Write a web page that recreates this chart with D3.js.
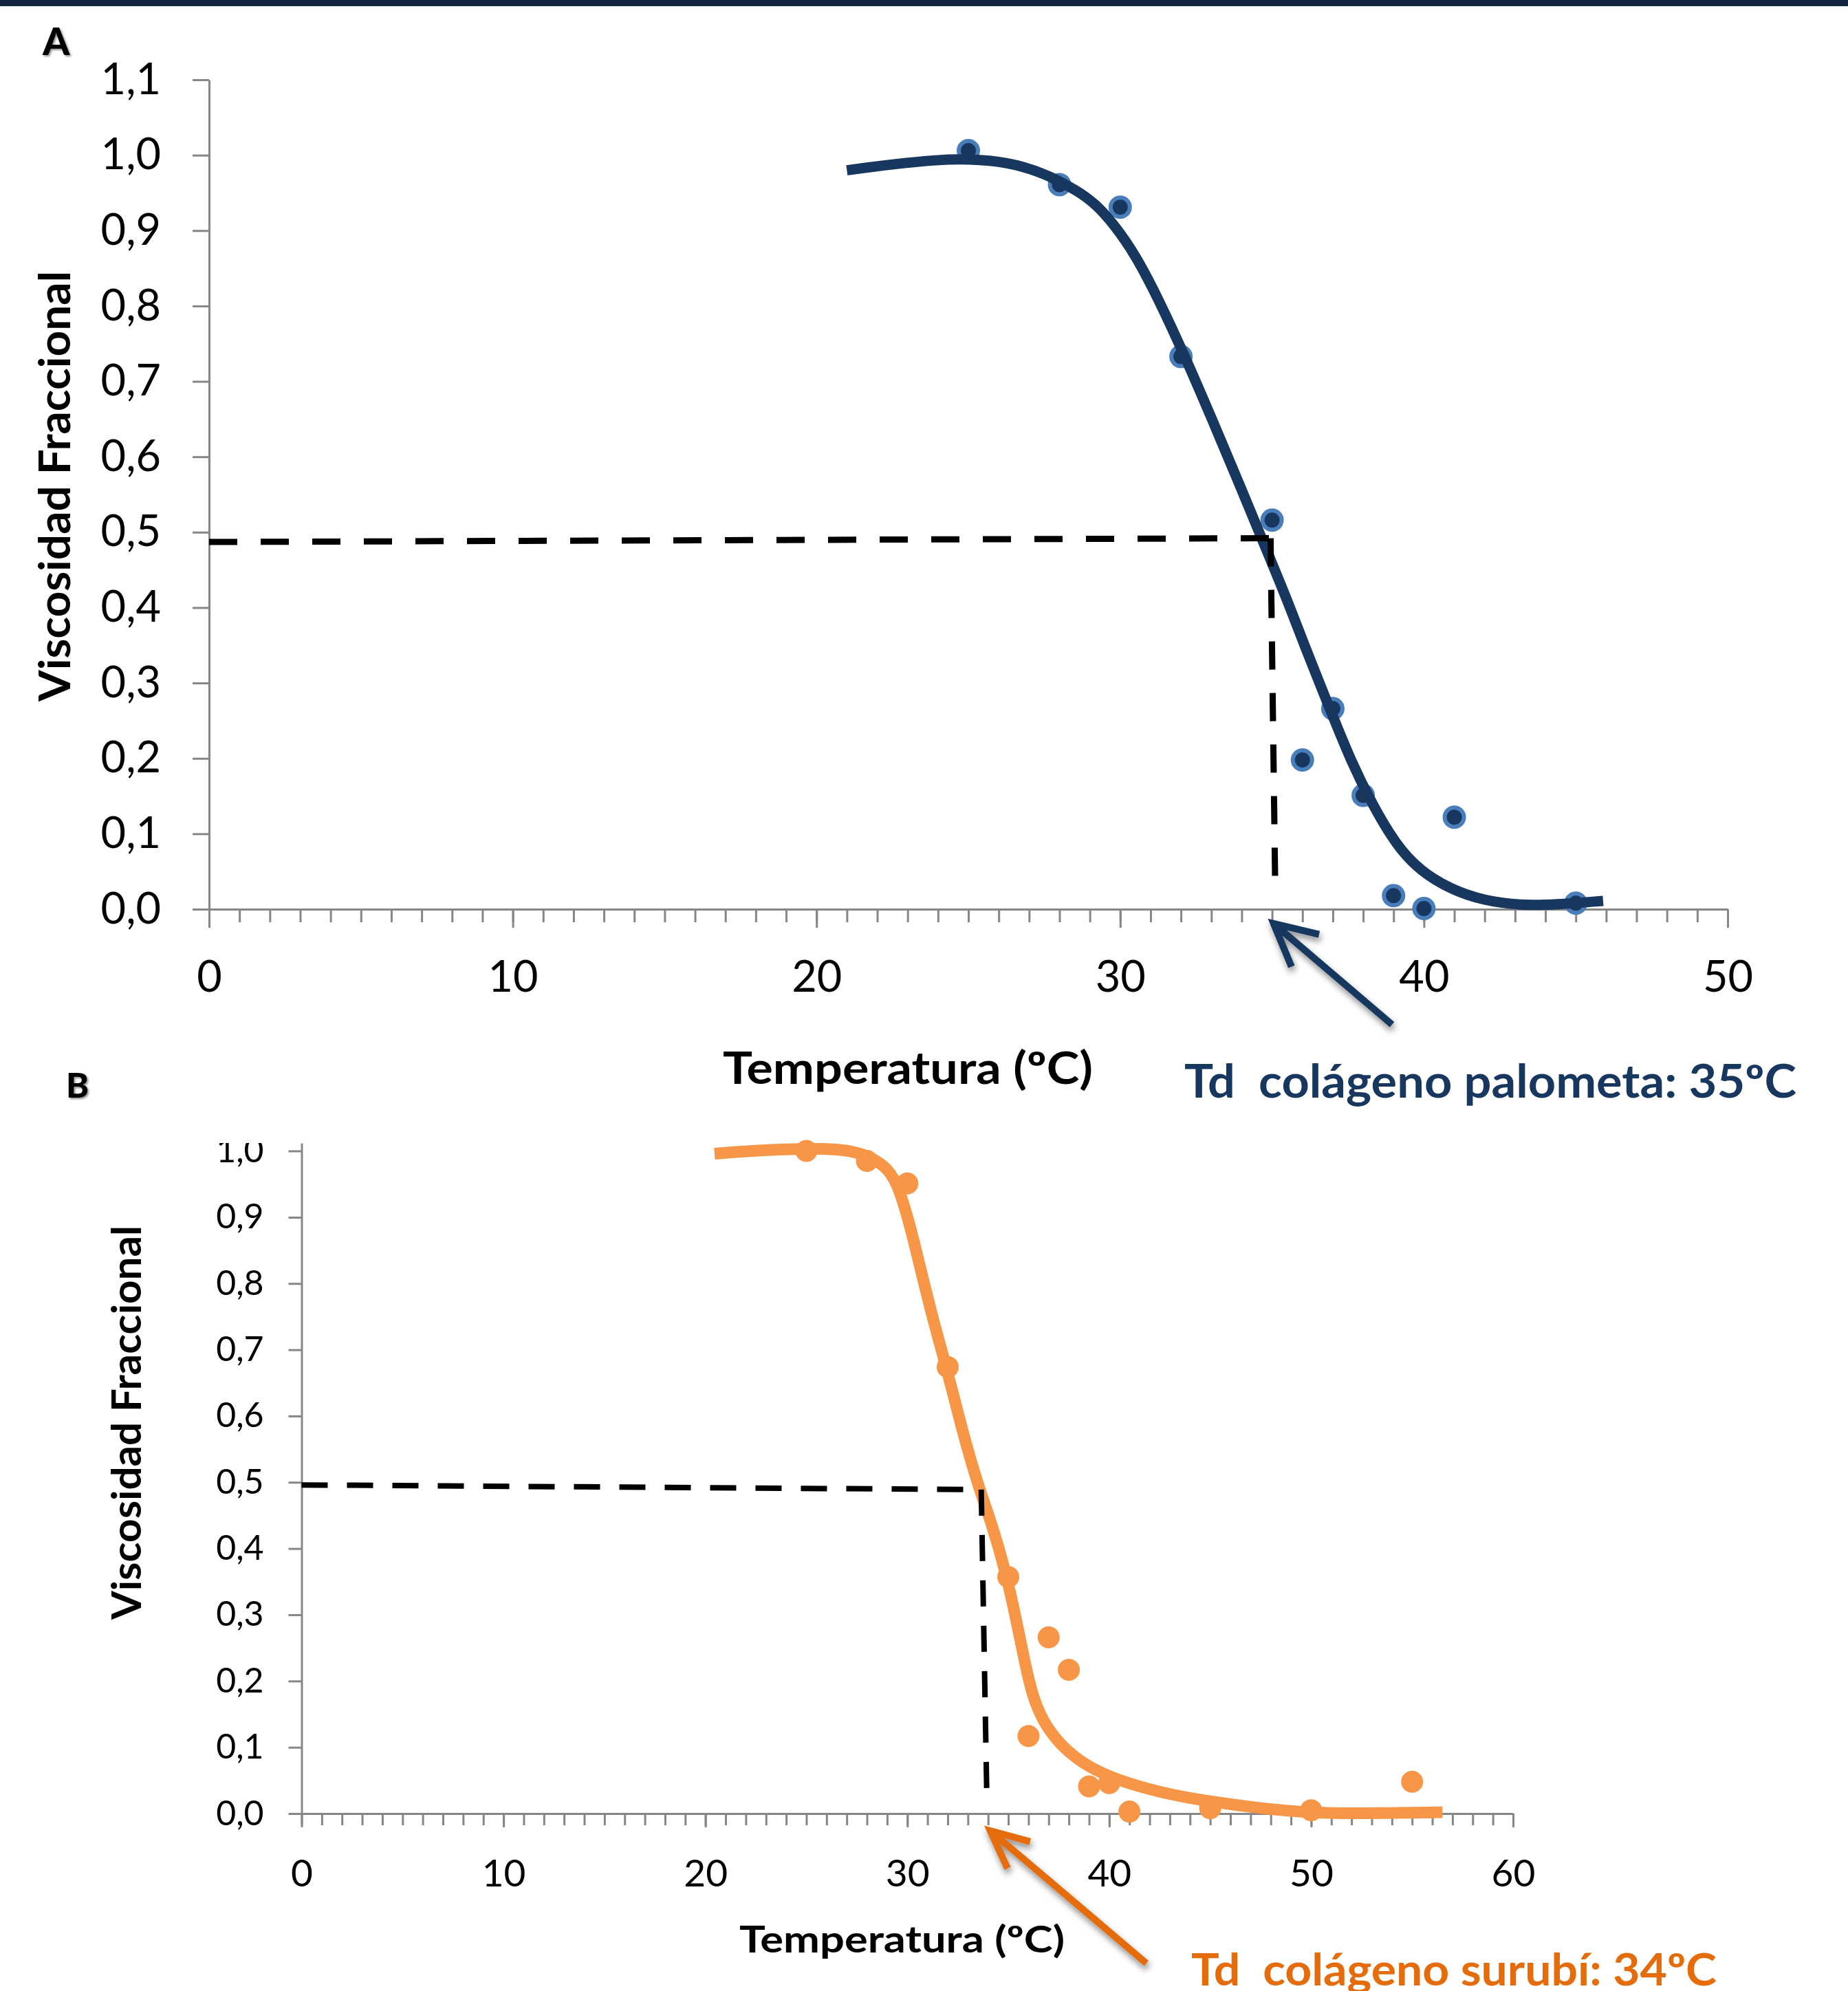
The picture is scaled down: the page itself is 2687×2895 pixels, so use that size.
<!DOCTYPE html>
<html><head><meta charset="utf-8">
<script src="https://cdn.jsdelivr.net/npm/d3@7"></script>
<style>
html,body{margin:0;padding:0;background:#fff;}
svg{display:block;}
text{font-family:Lato,'Open Sans',sans-serif;}
</style></head><body>
<svg id="chart" width="2687" height="2895"></svg>
<script>
// ---------- DATA ----------
// Panel A : colágeno palometa
const tempA = [25, 28, 30, 32, 35, 36, 37, 38, 39, 40, 41, 45];
const viscA = [1.006, 0.961, 0.931, 0.733, 0.516, 0.198, 0.266, 0.151, 0.018, 0.001, 0.122, 0.008];
const fitTempA = [21.0, 22.5, 24.0, 25.0, 26.3, 27.45, 28.6, 29.2, 29.8, 30.5, 31.3, 32.2, 33.0, 33.9, 34.8, 35.5, 36.1, 36.9, 37.6, 38.3, 39.1, 39.9, 40.9, 42.0, 43.2, 44.3, 45.9];
const fitViscA = [0.980, 0.988, 0.994, 0.995, 0.991, 0.977, 0.953, 0.935, 0.908, 0.868, 0.806, 0.727, 0.652, 0.566, 0.478, 0.410, 0.346, 0.266, 0.196, 0.139, 0.084, 0.050, 0.026, 0.011, 0.005, 0.006, 0.011];
const xTicksA = [0, 10, 20, 30, 40, 50];
const yTicksA = [0, 0.1, 0.2, 0.3, 0.4, 0.5, 0.6, 0.7, 0.8, 0.9, 1.0, 1.1];
const hLineTempA = [0, 35.0], hLineViscA = [0.487, 0.492];
const vLineTempA = [34.95, 35.1], vLineViscA = [0.492, 0.04];
const arrowTempA = [35.05, 38.95], arrowViscA = [-0.019, -0.153]; // tip, tail
const labelA = "Td  colágeno palometa: 35ºC";

// Panel B : colágeno surubí
const tempB = [25, 28, 30, 32, 35, 36, 37, 38, 39, 40, 41, 45, 50, 55];
const viscB = [1.000, 0.985, 0.951, 0.674, 0.357, 0.117, 0.266, 0.217, 0.041, 0.046, 0.003, 0.008, 0.005, 0.048];
const fitTempB = [20.45, 23.1, 25.8, 27.15, 28.2, 29.07, 29.6, 30.3, 31.15, 32.0, 32.7, 33.5, 34.2, 34.85, 35.36, 35.81, 36.2, 36.72, 37.5, 38.6, 40.0, 42.0, 43.9, 47.6, 50.1, 52.3, 56.5];
const fitViscB = [0.996, 1.002, 1.004, 1.001, 0.991, 0.973, 0.945, 0.869, 0.758, 0.667, 0.580, 0.495, 0.436, 0.367, 0.298, 0.229, 0.177, 0.139, 0.106, 0.077, 0.055, 0.036, 0.023, 0.007, 0.001, 0.0, 0.002];
const xTicksB = [0, 10, 20, 30, 40, 50, 60];
const yTicksB = [0, 0.1, 0.2, 0.3, 0.4, 0.5, 0.6, 0.7, 0.8, 0.9, 1.0];
const hLineTempB = [0, 33.4], hLineViscB = [0.496, 0.489];
const vLineTempB = [33.66, 33.93], vLineViscB = [0.489, 0.038];
const arrowTempB = [34.11, 41.84], arrowViscB = [-0.026, -0.226];
const labelB = "Td  colágeno surubí: 34ºC";

const xTitle = "Temperatura (ºC)";
const yTitle = "Viscosidad Fraccional";

// ---------- SETUP ----------
const W = 2687, H = 2895;
const svg = d3.select('#chart').attr('viewBox', `0 0 ${W} ${H}`);
svg.append('rect').attr('width', W).attr('height', H).attr('fill', '#fff');
const defs = svg.append('defs');
const f1 = defs.append('filter').attr('id', 'ashadow').attr('x', '-50%').attr('y', '-50%').attr('width', '200%').attr('height', '200%');
f1.append('feDropShadow').attr('dx', 2).attr('dy', 6).attr('stdDeviation', 5).attr('flood-color', '#000').attr('flood-opacity', 0.45);
const f2 = defs.append('filter').attr('id', 'tshadow').attr('x', '-30%').attr('y', '-30%').attr('width', '160%').attr('height', '160%');
f2.append('feDropShadow').attr('dx', 2).attr('dy', 2).attr('stdDeviation', 1.5).attr('flood-color', '#000').attr('flood-opacity', 0.45);

svg.append('rect').attr('x', 0).attr('y', 0).attr('width', W).attr('height', 9).attr('fill', '#13253F');

const comma = d => d3.format('.1f')(d).replace('.', ',');
const AXIS = '#868686';

function panel(c) {
  const g = svg.append('g');
  const x = d3.scaleLinear().domain(c.xDomain).range(c.xRange);
  const y = d3.scaleLinear().domain(c.yDomain).range(c.yRange);

  // y axis (labels clipped at the top of the plot frame, as in the source)
  const clipId = 'clip' + c.id;
  defs.append('clipPath').attr('id', clipId).append('rect')
    .attr('x', -3000).attr('y', c.clipTop).attr('width', 6000).attr('height', H);
  const ya = g.append('g').attr('transform', `translate(${c.xRange[0]},0)`)
    .attr('clip-path', `url(#${clipId})`)
    .call(d3.axisLeft(y).tickValues(c.yTicks).tickSize(c.yTickSize).tickSizeOuter(0)
      .tickPadding(c.yPad).tickFormat(comma));
  ya.selectAll('path,line').attr('stroke', AXIS).attr('stroke-width', 3);
  ya.selectAll('text').attr('font-size', c.yFont).attr('fill', '#000');

  // x axis: minor ticks every 1 ºC, major every 10 ºC
  const xm = g.append('g').attr('transform', `translate(0,${c.yRange[0]})`)
    .call(d3.axisBottom(x).tickValues(d3.range(c.xDomain[0], c.xDomain[1] + 1, 1))
      .tickSize(c.xMinor).tickSizeOuter(0).tickFormat(''));
  xm.select('.domain').remove();
  xm.selectAll('line').attr('stroke', AXIS).attr('stroke-width', 3);
  const xa = g.append('g').attr('transform', `translate(0,${c.yRange[0]})`)
    .call(d3.axisBottom(x).tickValues(c.xTicks).tickSize(c.xMajor).tickSizeOuter(0)
      .tickPadding(c.xPad).tickFormat(d3.format('d')));
  xa.selectAll('path,line').attr('stroke', AXIS).attr('stroke-width', 3);
  xa.selectAll('text').attr('font-size', c.xFont).attr('fill', '#000');

  // points
  g.append('g').selectAll('circle').data(c.temps.map((t, i) => [t, c.visc[i]])).join('circle')
    .attr('cx', d => x(d[0])).attr('cy', d => y(d[1])).attr('r', c.r)
    .attr('fill', c.dotFill).attr('stroke', c.dotStroke).attr('stroke-width', c.dotStrokeW);

  // fitted curve
  const line = d3.line().x(d => x(d[0])).y(d => y(d[1])).curve(d3.curveBasis);
  g.append('path').datum(c.fitT.map((t, i) => [t, c.fitV[i]]))
    .attr('d', line).attr('fill', 'none').attr('stroke', c.lineColor)
    .attr('stroke-width', c.lineW).attr('stroke-linecap', 'butt');

  // dashed reference lines
  const lin = d3.line().x(d => x(d[0])).y(d => y(d[1]));
  [[c.hT, c.hV], [c.vT, c.vV]].forEach(([ts, vs]) => {
    g.append('path').datum(ts.map((t, i) => [t, vs[i]])).attr('d', lin)
      .attr('fill', 'none').attr('stroke', '#000').attr('stroke-width', c.dashW)
      .attr('stroke-dasharray', c.dash);
  });

  // arrow
  const tip = [x(c.arT[0]), y(c.arV[0])], tail = [x(c.arT[1]), y(c.arV[1])];
  const ang = Math.atan2(tail[1] - tip[1], tail[0] - tip[0]);
  const b1 = [tip[0] + c.headLen * Math.cos(ang - c.headAng), tip[1] + c.headLen * Math.sin(ang - c.headAng)];
  const b2 = [tip[0] + c.headLen * Math.cos(ang + c.headAng), tip[1] + c.headLen * Math.sin(ang + c.headAng)];
  g.append('path')
    .attr('d', `M${tail}L${tip}M${b1}L${tip}L${b2}`)
    .attr('fill', 'none').attr('stroke', c.arrowColor).attr('stroke-width', 10)
    .attr('stroke-linejoin', 'miter').attr('stroke-linecap', 'butt')
    .attr('filter', 'url(#ashadow)');

  // titles
  g.append('text').attr('x', c.xt.x).attr('y', c.xt.y).attr('font-size', c.xt.size)
    .attr('font-weight', 700).attr('textLength', c.xt.len).attr('lengthAdjust', 'spacingAndGlyphs')
    .text(xTitle);
  g.append('text').attr('transform', `translate(${c.yt.x},${c.yt.y}) rotate(-90)`)
    .attr('font-size', c.yt.size).attr('font-weight', 700)
    .attr('textLength', c.yt.len).attr('lengthAdjust', 'spacingAndGlyphs').text(yTitle);
  g.append('text').attr('x', c.ann.x).attr('y', c.ann.y).attr('font-size', c.ann.size)
    .attr('font-weight', 700).attr('fill', c.ann.color).style('white-space', 'pre')
    .attr('textLength', c.ann.len).attr('lengthAdjust', 'spacingAndGlyphs').text(c.ann.text);
  g.append('text').attr('x', c.letter.x).attr('y', c.letter.y).attr('font-size', c.letter.size)
    .attr('font-weight', 900).attr('filter', 'url(#tshadow)').text(c.letter.text);
}

panel({
  id: 'A', xDomain: [0, 50], yDomain: [0, 1.1], xRange: [304, 2512], yRange: [1322, 116],
  clipTop: 0, xTicks: xTicksA, yTicks: yTicksA, yTickSize: 24, yPad: 46, yFont: 63,
  xMinor: 19, xMajor: 27, xPad: 48, xFont: 63,
  temps: tempA, visc: viscA, r: 14, dotFill: '#17375E', dotStroke: '#4A7EBB', dotStrokeW: 6,
  fitT: fitTempA, fitV: fitViscA, lineColor: '#17375E', lineW: 15,
  hT: hLineTempA, hV: hLineViscA, vT: vLineTempA, vV: vLineViscA, dashW: 9, dash: '41 34',
  arT: arrowTempA, arV: arrowViscA, arrowColor: '#17375E', headLen: 68, headAng: 27 * Math.PI / 180,
  xt: {x: 1051, y: 1576, size: 65, len: 538},
  yt: {x: 102, y: 1020, size: 64, len: 626},
  ann: {x: 1722, y: 1596, size: 66, len: 890, color: '#17375E', text: labelA},
  letter: {x: 62, y: 80, size: 56, text: 'A'}
});

panel({
  id: 'B', xDomain: [0, 60], yDomain: [0, 1.012], xRange: [438.5, 2200], yRange: [2637, 1662],
  clipTop: 1662, xTicks: xTicksB, yTicks: yTicksB, yTickSize: 19, yPad: 36, yFont: 50,
  xMinor: 17, xMajor: 20, xPad: 47, xFont: 55,
  temps: tempB, visc: viscB, r: 16, dotFill: '#F79646', dotStroke: 'none', dotStrokeW: 0,
  fitT: fitTempB, fitV: fitViscB, lineColor: '#F79646', lineW: 17,
  hT: hLineTempB, hV: hLineViscB, vT: vLineTempB, vV: vLineViscB, dashW: 8, dash: '38 28',
  arT: arrowTempB, arV: arrowViscB, arrowColor: '#E46C0A', headLen: 60, headAng: 25 * Math.PI / 180,
  xt: {x: 1075, y: 2839, size: 54, len: 473},
  yt: {x: 205, y: 2355, size: 60, len: 573},
  ann: {x: 1732, y: 2887, size: 65, len: 764, color: '#E46C0A', text: labelB},
  letter: {x: 96, y: 1596, size: 50, text: 'B'}
});
</script></body></html>
